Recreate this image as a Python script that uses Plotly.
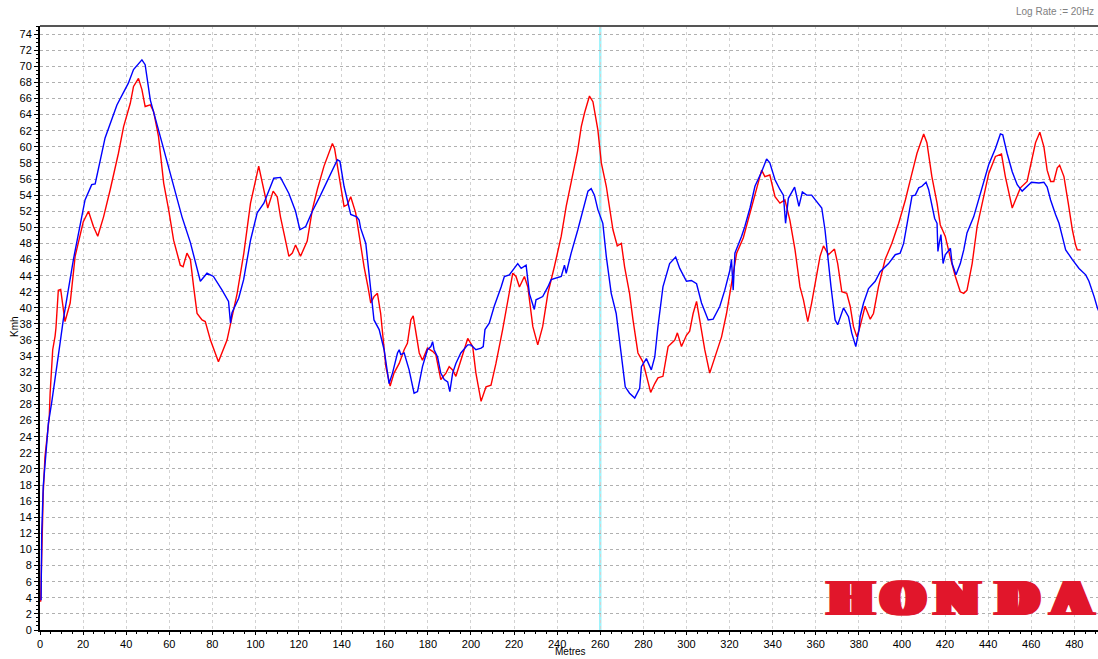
import plotly.graph_objects as go

# ---------------- data ----------------
red_x = [0.3, 0.8, 1.5, 2.3, 3.1, 4.3, 4.7, 5.9, 7.0, 7.4, 8.5, 9.6, 11.6, 14.0, 16.3, 20.1, 22.5, 24.8,
         26.8, 29.5, 32.6, 36.4, 38.8, 41.9, 43.4, 45.7, 47.3, 48.8, 51.2, 52.7, 55.0, 57.4, 59.7, 62.0,
         65.1, 66.4, 68.2, 69.8, 71.3, 72.9, 75.2, 76.7, 79.1, 82.8, 86.8, 91.5, 94.6, 97.7, 101.5, 103.9,
         105.7, 108.2, 110.1, 111.6, 114.0, 115.5, 117.1, 118.6, 120.9, 124.0, 126.4, 128.7, 131.8, 134.9,
         135.7, 136.7, 138.8, 141.1, 142.6, 144.2, 146.5, 148.1, 150.4, 152.2, 153.5, 155.0, 156.6, 158.1,
         160.5, 162.5, 164.3, 166.7, 169.0, 170.5, 172.1, 173.2, 174.4, 176.0, 177.5, 179.8, 182.2, 183.7,
         186.0, 188.4, 189.9, 191.5, 193.0, 195.3, 198.5, 200.8, 202.3, 204.7, 207.0, 209.3, 211.6, 214.7,
         217.1, 219.4, 220.9, 222.5, 224.8, 226.4, 228.7, 231.0, 233.3, 235.7, 238.7, 241.9, 244.2, 247.3,
         249.5, 251.2, 252.7, 255.0, 256.6, 258.9, 260.5, 262.8, 265.9, 267.9, 269.8, 271.3, 273.6, 275.2,
         277.5, 279.8, 283.4, 285.3, 286.8, 289.1, 291.5, 294.6, 295.8, 297.7, 300.0, 301.5, 303.1, 304.7,
         306.2, 308.5, 310.8, 313.2, 316.3, 318.6, 320.9, 323.3, 326.4, 329.5, 332.6, 334.9, 336.4, 338.7,
         341.1, 343.4, 345.7, 348.0, 350.4, 352.7, 354.3, 356.3, 358.1, 359.7, 362.0, 363.6, 365.9, 368.7,
         370.2, 372.1, 374.4, 376.0, 377.5, 379.1, 380.6, 382.9, 385.3, 386.8, 389.1, 392.2, 395.3, 398.5,
         401.6, 403.9, 407.0, 410.1, 411.6, 413.9, 416.3, 417.8, 420.1, 422.5, 424.8, 427.1, 428.7, 430.2,
         432.6, 434.9, 437.2, 440.3, 443.4, 446.2, 448.0, 451.2, 452.7, 455.0, 458.1, 459.7, 462.0, 464.0,
         465.9, 467.4, 469.0, 470.5, 472.1, 473.2, 475.2, 477.2, 479.1, 480.6, 481.4, 483.0]
red_y = [3.5, 9.0, 17.0, 21.5, 23.6, 26.5, 29.4, 34.8, 36.5, 37.5, 42.2, 42.3, 38.3, 40.6, 46.4, 50.7, 52.0, 50.1,
         48.9, 51.3, 54.7, 59.2, 62.5, 65.4, 67.5, 68.5, 67.1, 65.0, 65.2, 64.4, 61.3, 55.5, 52.2, 48.4,
         45.3, 45.1, 46.8, 46.0, 42.6, 39.3, 38.5, 38.3, 36.0, 33.3, 36.0, 41.8, 46.8, 53.0, 57.6, 54.7,
         52.4, 54.5, 53.8, 51.3, 48.0, 46.4, 46.8, 47.8, 46.4, 48.3, 52.2, 54.7, 57.6, 60.0,
         60.4, 59.8, 56.3, 52.6, 52.8, 53.8, 51.8, 48.9, 45.1, 42.6, 40.6, 41.4, 41.8, 39.3,
         32.7, 30.3, 31.9, 33.1, 34.8, 35.6, 38.5, 39.0, 36.9, 34.4, 33.5, 35.0, 34.6, 34.2,
         31.1, 31.9, 32.7, 32.3, 31.5, 33.5, 36.2, 35.2, 31.9, 28.4, 30.2, 30.4, 33.1, 37.3,
         41.0, 44.3, 43.9, 42.6, 43.9, 42.6, 37.7, 35.4, 37.7, 41.8, 45.1, 48.9, 52.6, 56.7,
         59.5, 62.5, 64.2, 66.3, 65.6, 62.1, 58.0, 55.1, 49.7, 47.7, 48.0, 45.1, 41.8, 38.5,
         34.4, 33.3, 29.5, 30.6, 31.3, 31.5, 35.2, 36.0, 36.9, 35.2, 36.6, 37.1, 39.3, 40.8,
         38.5, 34.8, 31.9, 33.9, 36.4, 39.3, 43.1, 46.8, 48.7, 51.8, 55.1, 57.1, 56.3, 56.5,
         53.8, 53.0, 53.4, 50.9, 47.2, 42.6, 41.0, 38.3, 40.6, 43.1, 46.4, 47.7, 46.6, 47.3,
         45.5, 42.0, 41.8, 40.2, 37.7, 36.4, 37.7, 40.2, 38.6, 39.3, 42.6, 46.0, 48.0, 50.5,
         53.4, 55.9, 59.2, 61.6, 60.5, 56.3, 53.0, 50.3, 48.9, 46.2, 43.9, 42.0, 41.8, 42.2,
         45.5, 50.1, 53.0, 56.7, 58.8, 59.1, 56.3, 52.4, 53.4, 54.9, 55.7, 57.6, 60.5, 61.8,
         60.0, 57.1, 55.7, 55.7, 57.4, 57.7, 56.3, 53.0, 49.7, 47.8, 47.2, 47.2]

blue_x = [0.5, 0.8, 1.5, 2.3, 3.1, 3.9, 5.4, 7.0, 9.3, 10.8, 12.4, 15.5, 20.9, 24.0, 25.6, 30.2, 35.7, 41.0,
          43.4, 47.3, 48.8, 51.2, 55.8, 61.2, 65.9, 69.8, 74.4, 77.5, 80.5, 84.5, 87.5, 88.4, 89.1, 92.2,
          94.5, 97.7, 100.8, 103.9, 108.5, 111.6, 115.5, 118.6, 120.6, 123.3, 126.4, 130.2, 134.9, 138.0,
          139.2, 141.1, 144.2, 147.0, 148.1, 148.8, 151.2, 152.7, 155.0, 157.4, 159.7, 162.0, 163.6, 165.9,
          166.7, 167.4, 169.0, 171.3, 173.6, 175.2, 177.5, 179.8, 181.4, 182.2, 182.9, 184.5, 186.0, 187.6,
          189.2, 190.2, 191.5, 193.0, 195.3, 198.5, 200.0, 202.3, 204.7, 205.7, 206.5, 208.5, 210.8, 214.0,
          215.5, 217.8, 220.1, 221.7, 223.3, 225.6, 227.1, 229.4, 230.2, 233.3, 235.7, 237.2, 241.9, 243.4,
          244.2, 246.5, 249.6, 252.0, 254.3, 255.8, 257.3, 258.9, 261.2, 262.8, 265.1, 267.4, 269.8, 271.6,
          273.6, 276.0, 278.3, 279.1, 281.4, 283.7, 285.3, 286.8, 289.1, 292.2, 295.0, 296.9, 300.0, 302.3,
          304.7, 307.0, 310.1, 312.4, 315.5, 317.8, 320.2, 320.9, 321.7, 322.5, 325.6, 327.1, 329.5, 331.8,
          334.9, 337.2, 338.7, 341.1, 343.4, 345.0, 346.0, 347.3, 350.2, 352.2, 353.8, 355.8, 358.1, 361.2,
          362.8, 364.3, 365.9, 367.1, 368.2, 369.0, 370.2, 372.9, 375.2, 376.7, 378.6, 380.1, 380.6, 382.2,
          384.5, 387.6, 389.9, 391.5, 393.8, 396.9, 399.2, 400.8, 402.3, 403.9, 404.7, 406.2, 407.8, 409.3,
          411.2, 412.4, 413.9, 415.2, 416.3, 416.7, 417.3, 418.1, 419.1, 420.1, 422.5, 423.3, 425.1, 427.1,
          428.7, 430.2, 433.3, 435.7, 438.0, 440.3, 443.4, 445.7, 446.8, 448.8, 451.2, 453.5, 455.8, 458.1,
          460.1, 463.6, 465.9, 467.4, 469.0, 471.3, 472.9, 474.4, 476.0, 479.1, 482.2, 485.3, 486.8, 489.2,
          490.7, 492.1]
blue_y = [3.7, 12.0, 17.8, 20.7, 23.6, 25.7, 28.2, 31.5, 35.6, 38.5, 41.0, 46.0, 53.4, 55.3, 55.4, 61.1, 65.2, 67.9,
          69.6, 70.8, 70.2, 65.8, 61.3, 55.9, 51.3, 48.1, 43.3, 44.3, 43.9, 42.2, 40.8, 38.1, 39.4, 41.2,
          43.5, 48.4, 51.8, 53.0, 56.1, 56.2, 54.2, 52.0, 49.7, 50.1, 52.0, 54.0, 56.7, 58.4,
          58.2, 55.1, 51.6, 51.3, 50.9, 49.9, 48.0, 44.3, 38.5, 37.3, 34.8, 30.6, 31.9, 34.4,
          34.8, 34.2, 34.4, 32.3, 29.4, 29.6, 32.7, 34.8, 35.2, 35.8, 34.8, 33.9, 31.9, 31.1,
          30.8, 29.6, 31.9, 33.1, 34.4, 35.4, 35.4, 34.8, 35.0, 35.2, 37.3, 38.1, 40.2, 42.6,
          43.9, 44.1, 44.9, 45.5, 44.9, 45.3, 41.8, 39.8, 41.0, 41.4, 42.6, 43.5, 43.9, 45.3,
          44.3, 46.8, 49.7, 52.2, 54.5, 54.8, 54.0, 52.2, 50.5, 46.4, 41.8, 39.3, 33.9, 30.2,
          29.4, 28.8, 30.0, 32.7, 33.7, 32.3, 33.9, 37.7, 42.6, 45.5, 46.3, 44.9, 43.3, 43.4,
          43.0, 40.6, 38.5, 38.6, 40.2, 42.2, 44.7, 46.0, 42.2, 46.8, 48.9, 50.1, 52.4, 55.1,
          56.9, 58.5, 58.0, 55.9, 54.7, 54.0, 50.5, 53.6, 55.0, 52.6, 54.4, 54.0, 54.0, 53.0,
          52.4, 49.7, 45.1, 42.6, 40.2, 38.5, 37.9, 40.0, 38.9, 36.9, 35.2, 37.3, 38.9, 40.6,
          42.4, 43.3, 44.5, 44.9, 45.5, 46.6, 46.8, 48.0, 50.1, 52.6, 53.9, 54.0, 54.9, 55.1,
          55.6, 54.7, 52.6, 51.1, 50.5, 47.0, 48.0, 49.1, 45.5, 46.6, 47.4, 45.5, 44.1, 45.5,
          47.2, 49.3, 51.3, 53.6, 55.9, 57.8, 59.8, 61.6, 61.5, 59.2, 56.9, 55.3, 54.5, 55.1,
          55.6, 55.5, 55.6, 55.0, 53.4, 51.6, 50.5, 48.9, 47.2, 46.0, 44.9, 44.1, 43.3, 41.4,
          40.0, 39.1]

x_ticks = list(range(0, 481, 20))
y_ticks = list(range(0, 75, 2))
cursor_x = 260
logo_letters = ["H", "O", "N", "D", "A"]
logo_x = [376.3, 400.7, 425.5, 453.4, 478.9]

# ---------------- figure ----------------
W, H = 1098, 659
ML, MR, MT, MB = 40, 0, 26, 29

fig = go.Figure()
fig.add_trace(go.Scatter(x=red_x, y=red_y, mode="lines",
                         line=dict(color="#ff0000", width=1.4), showlegend=False))
fig.add_trace(go.Scatter(x=blue_x, y=blue_y, mode="lines",
                         line=dict(color="#0000ff", width=1.4), showlegend=False))

font_family = "Liberation Sans, Arial, sans-serif"

fig.update_layout(
    width=W, height=H,
    margin=dict(l=ML, r=MR, t=MT, b=MB, autoexpand=False),
    paper_bgcolor="white", plot_bgcolor="white",
    font=dict(family=font_family, size=11, color="#000000"),
    xaxis=dict(
        range=[0, 491], tickvals=x_ticks, ticktext=[str(v) for v in x_ticks],
        automargin=False,
        showgrid=True, gridcolor="#d2d2d2", griddash="dot", gridwidth=1,
        zeroline=False, showline=True, linecolor="#000000", linewidth=2,
        ticks="outside", ticklen=3, tickcolor="#000000", tickwidth=1,
        minor=dict(dtick=5, ticks="outside", ticklen=2, tickcolor="#000000", showgrid=False),
        tickfont=dict(size=11),
    ),
    yaxis=dict(
        range=[0, 75], tickvals=y_ticks, ticktext=[str(v) for v in y_ticks],
        automargin=False,
        showgrid=True, gridcolor="#b0b0b0", griddash="dot", gridwidth=1,
        zeroline=False, showline=True, linecolor="#000000", linewidth=2,
        ticks="outside", ticklen=4, tickcolor="#000000", tickwidth=1,
        minor=dict(dtick=0.5, ticks="outside", ticklen=2, tickcolor="#000000", showgrid=False),
        tickfont=dict(size=11),
    ),
    shapes=[
        dict(type="line", xref="x", yref="paper", x0=cursor_x, x1=cursor_x, y0=0, y1=1,
             line=dict(color="#9ff3fb", width=2.5), layer="below"),
        dict(type="line", xref="paper", yref="paper", x0=0, x1=1, y0=1, y1=1,
             line=dict(color="#555555", width=2)),
    ],
)

plot_w = W - ML - MR
plot_h = H - MT - MB

def px_x(px):
    return (px - ML) / plot_w

def px_y(py):
    return (H - MB - py) / plot_h

annotations = [
    dict(text="Log Rate := 20Hz", xref="paper", yref="paper", x=px_x(1096), y=px_y(12),
         xanchor="right", yanchor="middle", showarrow=False,
         font=dict(size=10, color="#808080", family=font_family)),
    dict(text="Metres", xref="paper", yref="paper", x=px_x(570), y=px_y(659),
         xanchor="center", yanchor="bottom", showarrow=False,
         font=dict(size=10, color="#000000", family=font_family)),
    dict(text="Kmh", xref="paper", yref="paper", x=px_x(14), y=px_y(327), textangle=-90,
         xanchor="center", yanchor="middle", showarrow=False,
         font=dict(size=10, color="#000000", family=font_family)),
]
shadow = ", ".join(f"{d}px 0px 0px #e1162b" for d in (-6, -4, -2, 2, 4, 6))
for letter, lx in zip(logo_letters, logo_x):
    annotations.append(dict(
        text=letter, xref="x", yref="y", x=lx, y=3.8, xanchor="center", yanchor="middle",
        showarrow=False,
        font=dict(family="DejaVu Serif", size=46, color="#e1162b", weight="bold", shadow=shadow),
    ))
fig.update_layout(annotations=annotations)

fig.write_html(
    "out.html",
    config={"displayModeBar": False},
    post_script="document.body.style.margin='0';document.body.style.padding='0';"
                "document.body.style.overflow='hidden';",
)
